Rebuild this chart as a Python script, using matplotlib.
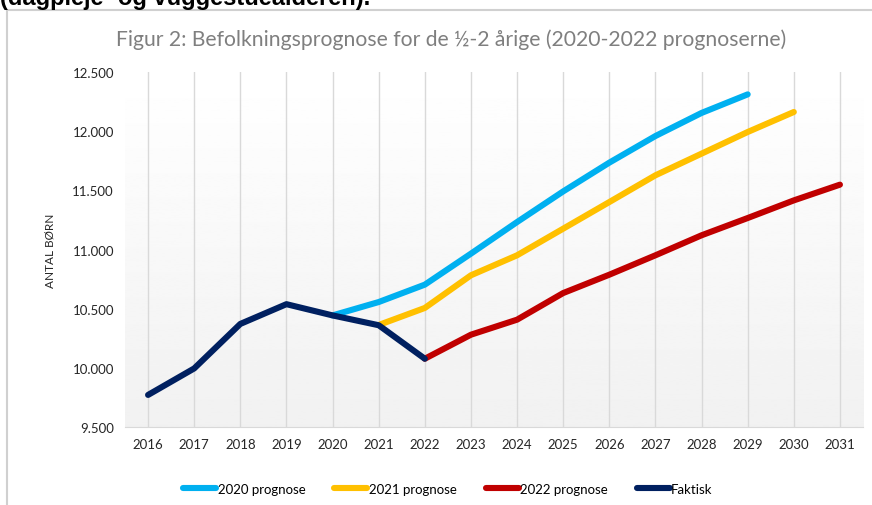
import numpy as np
import matplotlib.pyplot as plt
from matplotlib.lines import Line2D

years = [str(y) for y in range(2016, 2032)]

# NaN where a series has no value
nan = np.nan
prog_2020 = [nan, nan, nan, nan, 10443, 10556, 10703, 10965, 11232, 11491,
             11734, 11959, 12154, 12311, nan, nan]
prog_2021 = [nan, nan, nan, nan, nan, 10362, 10506, 10782, 10951, 11176,
             11401, 11627, 11810, 11993, 12162, nan]
prog_2022 = [nan, nan, nan, nan, nan, nan, 10077, 10280, 10407, 10632,
             10787, 10951, 11120, 11266, 11415, 11548]
faktisk = [9771, 9995, 10371, 10538, 10443, 10360, 10077, nan, nan, nan,
           nan, nan, nan, nan, nan, nan]

series = [
    ("2020 prognose", prog_2020, "#00b0f0"),
    ("2021 prognose", prog_2021, "#ffc000"),
    ("2022 prognose", prog_2022, "#c00000"),
    ("Faktisk", faktisk, "#002060"),
]

W, H = 872, 506
fig = plt.figure(figsize=(W / 100, H / 100), dpi=100)
plt.rcParams['font.family'] = ['Lato', 'DejaVu Sans']

# plot area in pixels: left 125, right 863, top 73, bottom 428
ax = fig.add_axes([125 / W, (H - 428) / H, (863 - 125) / W, (428 - 73) / H])

x = np.arange(len(years))
ax.set_xlim(-0.5, len(years) - 0.5)
ax.set_ylim(9500, 12500)

# soft grey gradient behind the plot
grad = np.linspace(1.0, 0.945, 256).reshape(-1, 1)
ax.imshow(grad, extent=[-0.5, len(years) - 0.5, 9500, 12500], aspect='auto',
          cmap='gray', vmin=0, vmax=1, zorder=0, origin='upper')

for xi in x:
    ax.axvline(xi, color='#d9d9d9', lw=1, zorder=1)

for label, vals, col in series:
    ax.plot(x, vals, color=col, lw=4.4, solid_capstyle='round',
            solid_joinstyle='round', label=label, zorder=3)

ax.set_xticks(x)
ax.set_xticklabels(years)
ax.set_yticks([9500, 10000, 10500, 11000, 11500, 12000, 12500])
ax.set_yticklabels(["9.500", "10.000", "10.500", "11.000", "11.500", "12.000", "12.500"])
ax.tick_params(length=0, labelsize=9.5, colors='#262626', pad=8)
for s in ['top', 'right', 'left']:
    ax.spines[s].set_visible(False)
ax.spines['bottom'].set_color('#d9d9d9')

ax.set_ylabel("ANTAL BØRN", fontsize=8.5, color='#262626', labelpad=12)

fig.text(451 / W, 1 - 40 / H, "Figur 2: Befolkningsprognose for de ½-2 årige (2020-2022 prognoserne)",
         ha='center', va='center', fontsize=15.2, color='#7f7f7f')

fig.text(0.0, 1 - 5 / H, "(dagpleje- og vuggestuealderen).", ha='left', va='baseline',
         fontsize=17, fontweight='bold', family='Liberation Sans', color='black')

# outer frame of the embedded chart
fig.add_artist(Line2D([7 / W, 1], [1 - 11 / H, 1 - 11 / H], transform=fig.transFigure,
                      color='#d0d0d0', lw=1.5))
fig.add_artist(Line2D([7 / W, 7 / W], [0, 1 - 11 / H], transform=fig.transFigure,
                      color='#d0d0d0', lw=1.5))

handles = [Line2D([0], [0], color=c, lw=4.4, solid_capstyle='round') for _, _, c in series]
fig.legend(handles, [s[0] for s in series], loc='center', bbox_to_anchor=(448 / W, 1 - 490 / H),
           ncol=4, frameon=False, fontsize=9.5, handlelength=2.5, handletextpad=0.1,
           columnspacing=2.2)

fig.savefig("out.png", dpi=100)
